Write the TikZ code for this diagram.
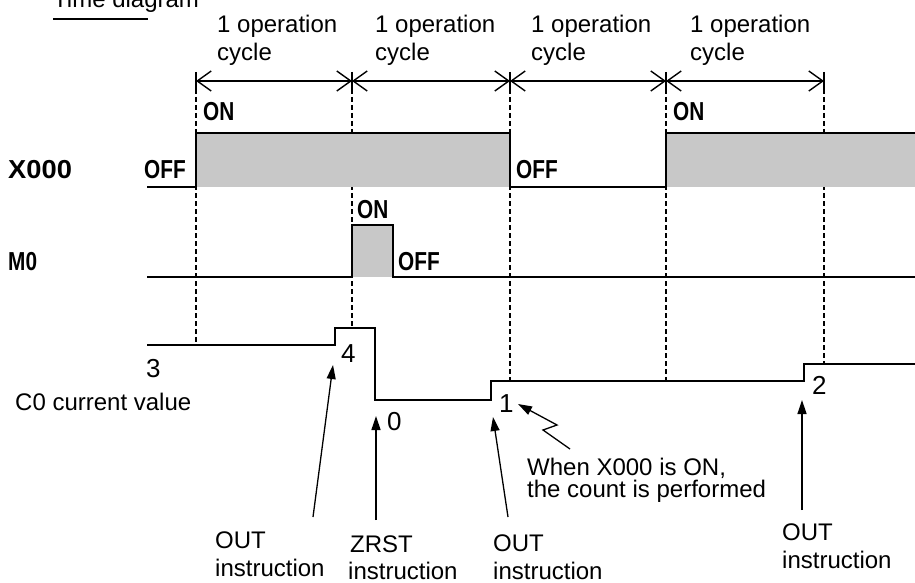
\documentclass[tikz,border=0pt]{standalone}
\usepackage{fontspec}
\setmainfont{Liberation Sans}
\newfontfamily\condf{Liberation Sans}[FakeStretch=0.8]
\newfontfamily\widef{Liberation Sans}[FakeStretch=1.05]
\usetikzlibrary{arrows.meta}
\definecolor{sigfill}{RGB}{200,200,200}
\tikzset{
  sig/.style={line width=1.7pt, line join=miter},
  gridline/.style={line width=1.8pt, dash pattern=on 5pt off 3pt},
  dimline/.style={line width=1.4pt, {Straight Barb[length=14pt,width=20pt,line width=1.4pt]}-{Straight Barb[length=14pt,width=20pt,line width=1.4pt]}},
  ptr/.style={line width=1.3pt, line join=miter, -{Triangle[length=14pt,width=9pt]}},
  lbl/.style={font=\condf\bfseries\fontsize{26}{26}\selectfont, inner sep=0pt, anchor=base west},
  wlbl/.style={font=\widef\bfseries\fontsize{26}{26}\selectfont, inner sep=0pt, anchor=base west},
  txt/.style={font=\fontsize{24}{24}\selectfont, inner sep=0pt, anchor=base west},
  ctxt/.style={font=\fontsize{24}{24}\selectfont, inner sep=0pt, anchor=base west},
  num/.style={font=\fontsize{26}{26}\selectfont, inner sep=0pt, anchor=base west},
}
\begin{document}
\begin{tikzpicture}[x=1pt,y=-1pt]
\clip (0,0) rectangle (915,583);
\fill[white] (0,0) rectangle (915,583);

% title
\node[txt] (title) at (53,8) {Time diagram};
\coordinate (ul1) at (53,19);
\coordinate (ul2) at (148,19);
\draw[line width=2pt] (ul1) -- (ul2);

% cycle boundaries
\coordinate (t0) at (196,81);
\coordinate (t1) at (352,81);
\coordinate (t2) at (510,81);
\coordinate (t3) at (666,81);
\coordinate (t4) at (824,81);

% dashed guide lines
\foreach \x/\yb in {196/345,352/328,510/381,666/381,824/364}
  \draw[gridline] (\x,73) -- (\x,\yb);
\foreach \x in {196,352,510,666,824}
  \draw[line width=1.4pt] (\x,72) -- (\x,90);

% dimension arrows
\draw[dimline] (t0) -- (t1);
\draw[dimline] (t1) -- (t2);
\draw[dimline] (t2) -- (t3);
\draw[dimline] (t3) -- (t4);

% cycle labels
\node[ctxt] (c1a) at (217,33) {1 operation};
\node[ctxt] (c1b) at (217,61) {cycle};
\node[ctxt] (c2a) at (375,33) {1 operation};
\node[ctxt] (c2b) at (375,61) {cycle};
\node[ctxt] (c3a) at (531,33) {1 operation};
\node[ctxt] (c3b) at (531,61) {cycle};
\node[ctxt] (c4a) at (690,33) {1 operation};
\node[ctxt] (c4b) at (690,61) {cycle};

% gray fills
\fill[sigfill] (196,133) rectangle (510,187);
\fill[sigfill] (666,133) rectangle (915,187);
\fill[sigfill] (352,225) rectangle (393,277);

% X000 signal
\draw[sig] (147,187) -- (196,187) -- (196,133) -- (510,133) -- (510,187) -- (666,187) -- (666,133) -- (917,133);
% M0 signal
\draw[sig] (147,277) -- (352,277) -- (352,225) -- (393,225) -- (393,277) -- (917,277);
% C0 current value
\draw[sig] (147,345) -- (335,345) -- (335,328) -- (375,328) -- (375,400) -- (491,400) -- (491,381) -- (804,381) -- (804,364) -- (917,364);

% signal names
\node[wlbl] (x000) at (8,178) {X000};
\node[lbl] (m0) at (8,270) {M0};
\node[txt] (c0) at (15,410) {C0 current value};

% ON / OFF labels
\node[lbl] (xon1) at (203,121) {ON};
\node[lbl] (xoff1) at (144,178) {OFF};
\node[lbl] (xoff2) at (516,178) {OFF};
\node[lbl] (xon2) at (673,121) {ON};
\node[lbl] (mon) at (357,218) {ON};
\node[lbl] (moff) at (398,270) {OFF};

% counter values
\node[num] (v3) at (146,377) {3};
\node[num] (v4) at (341,362) {4};
\node[num] (v0) at (387,430) {0};
\node[num] (v1) at (499,412) {1};
\node[num] (v2) at (812,394) {2};

% instruction labels
\node[txt] (o1a) at (215,548) {OUT};
\node[txt] (o1b) at (215,576) {instruction};
\node[txt] (zra) at (350,552) {ZRST};
\node[txt] (zrb) at (348,579) {instruction};
\node[txt] (o3a) at (493,551) {OUT};
\node[txt] (o3b) at (493,579) {instruction};
\node[txt] (o4a) at (782,540) {OUT};
\node[txt] (o4b) at (782,568) {instruction};
\node[txt] (wh1) at (527,475) {When X000 is ON,};
\node[txt] (wh2) at (527,497) {the count is performed};

% pointer arrows
\coordinate (p1s) at (313,517); \coordinate (p1e) at (333,365);
\coordinate (p2s) at (376,520); \coordinate (p2e) at (376,416);
\coordinate (p3s) at (508,517); \coordinate (p3e) at (493,417);
\coordinate (p4s) at (802,510); \coordinate (p4e) at (802,400);
\coordinate (zs) at (570,449); \coordinate (zm1) at (543,430);
\coordinate (zm2) at (557,425); \coordinate (ze) at (518,404);
\draw[ptr] (p1s) -- (p1e);
\draw[ptr] (p2s) -- (p2e);
\draw[ptr] (p3s) -- (p3e);
\draw[ptr] (p4s) -- (p4e);
\draw[ptr] (zs) -- (zm1) -- (zm2) -- (ze);
\end{tikzpicture}
\end{document}
